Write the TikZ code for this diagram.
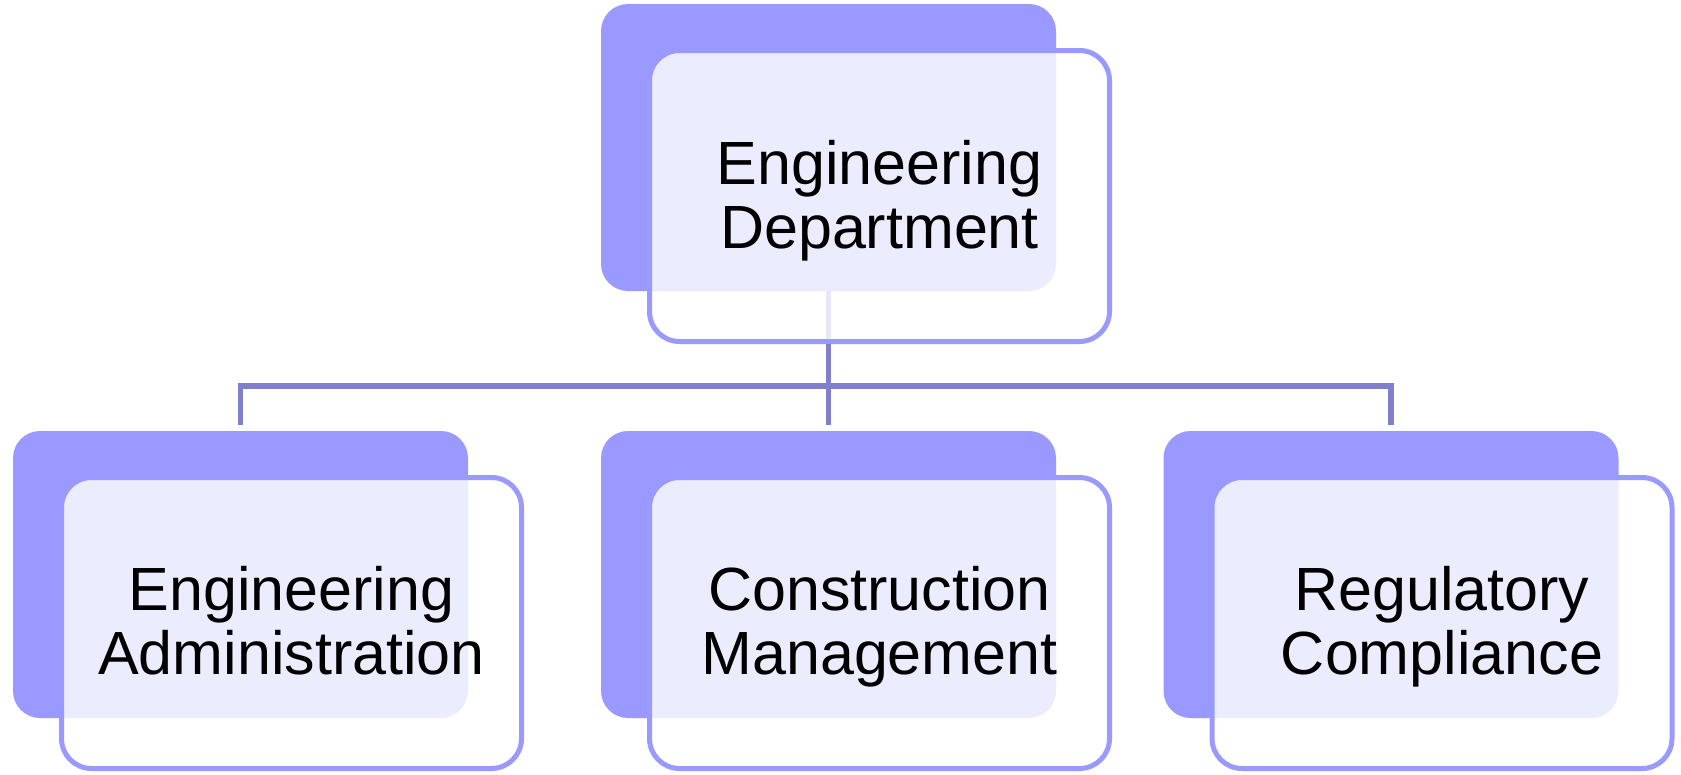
\documentclass[tikz,border=0pt]{standalone}
\usepackage{fontspec}
\setmainfont{Liberation Sans}
\definecolor{boxback}{HTML}{9999FF}
\definecolor{busline}{HTML}{7F7FCC}
\begin{document}
\begin{tikzpicture}[x=1pt,y=-1pt,
  backbox/.style={rectangle, fill=boxback, rounded corners=27pt, inner sep=0pt,
                  minimum width=455pt, minimum height=287pt},
  frontbox/.style={rectangle, draw=boxback, line width=5pt, fill=white, fill opacity=0.82,
                   draw opacity=1, rounded corners=30pt, inner sep=0pt,
                   minimum width=460pt, minimum height=291pt},
  conn/.style={draw=busline, line width=5.5pt},
  label/.style={anchor=north, align=center, inner sep=0pt,
                font=\fontsize{61}{64}\selectfont}]
\useasboundingbox (0,0) rectangle (1681,774);

% back panels
\node[backbox] (topB)   at (828.5,147.5) {};
\node[backbox] (adminB) at (240.5,574.5) {};
\node[backbox] (consB)  at (828.5,574.5) {};
\node[backbox] (regB)   at (1391,574.5) {};

% bus connecting the panels
\coordinate (bus) at (0,386);
\draw[conn] (topB.south) -- ([yshift=6pt]consB.north);
\draw[conn] ([yshift=6pt]adminB.north) -- (adminB.north |- bus) -- (regB.north |- bus)
  -- ([yshift=6pt]regB.north);

% translucent front cards
\node[frontbox] (topF)   at (879.5,196) {};
\node[frontbox] (adminF) at (291.5,623) {};
\node[frontbox] (consF)  at (879.5,623) {};
\node[frontbox] (regF)   at (1442,623) {};

% titles
\node[label] (topT)   at (879.5,139.6) {Engineering\\Department};
\node[label] (adminT) at (291.5,566.3) {Engineering\\Administration};
\node[label] (consT)  at (879.5,566.3) {Construction\\Management};
\node[label] (regT)   at (1442,566.3)  {Regulatory\\Compliance};
\end{tikzpicture}
\end{document}
